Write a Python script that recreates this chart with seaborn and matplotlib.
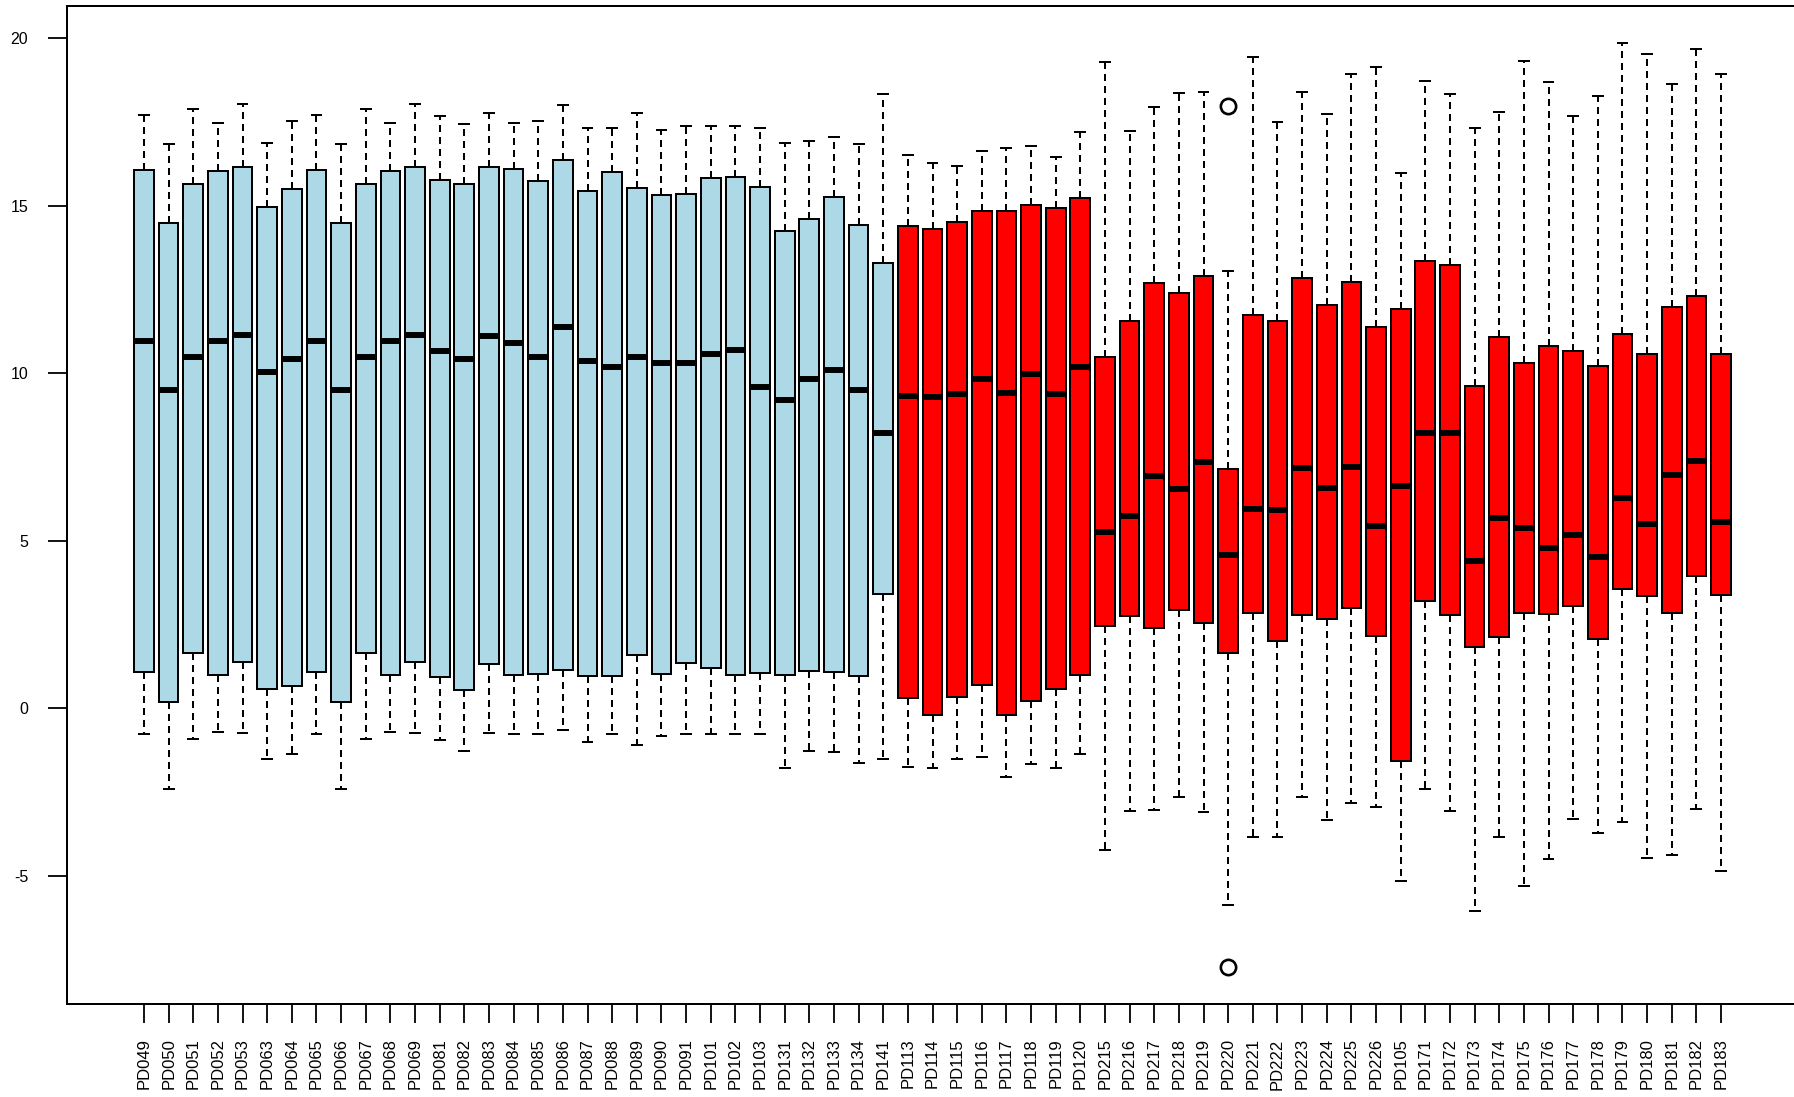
import numpy as np
import pandas as pd
import matplotlib
matplotlib.use("Agg")
import matplotlib.pyplot as plt
import seaborn as sns

samples = ["PD049", "PD050", "PD051", "PD052", "PD053", "PD063", "PD064", "PD065",
           "PD066", "PD067", "PD068", "PD069", "PD081", "PD082", "PD083", "PD084",
           "PD085", "PD086", "PD087", "PD088", "PD089", "PD090", "PD091", "PD101",
           "PD102", "PD103", "PD131", "PD132", "PD133", "PD134", "PD141",
           "PD113", "PD114", "PD115", "PD116", "PD117", "PD118", "PD119", "PD120",
           "PD215", "PD216", "PD217", "PD218", "PD219", "PD220", "PD221", "PD222",
           "PD223", "PD224", "PD225", "PD226", "PD105", "PD171", "PD172", "PD173",
           "PD174", "PD175", "PD176", "PD177", "PD178", "PD179", "PD180", "PD181",
           "PD182", "PD183"]
groups = ["control"] * 31 + ["case"] * 34

whisker_low = [-0.76, -2.40, -0.92, -0.71, -0.74, -1.52, -1.35, -0.76, -2.40, -0.92,
               -0.71, -0.74, -0.94, -1.26, -0.72, -0.75, -0.75, -0.65, -0.99, -0.75,
               -1.09, -0.82, -0.75, -0.75, -0.75, -0.75, -1.78, -1.26, -1.30, -1.64,
               -1.52,
               -1.74, -1.79, -1.51, -1.46, -2.04, -1.66, -1.77, -1.36, -4.22, -3.05,
               -3.03, -2.63, -3.08, -5.87, -3.83, -3.85, -2.63, -3.33, -2.83, -2.93,
               -5.15, -2.39, -3.07, -6.04, -3.83, -5.30, -4.49, -3.31, -3.71, -3.40,
               -4.47, -4.38, -3.01, -4.85]
q1 = [1.10, 0.20, 1.67, 1.01, 1.40, 0.59, 0.68, 1.10, 0.20, 1.67,
      1.01, 1.40, 0.93, 0.55, 1.33, 0.99, 1.03, 1.16, 0.96, 0.96,
      1.61, 1.03, 1.37, 1.20, 0.99, 1.06, 0.99, 1.13, 1.09, 0.96,
      3.42,
      0.30, -0.19, 0.35, 0.70, -0.19, 0.23, 0.58, 0.99, 2.47, 2.76,
      2.39, 2.94, 2.54, 1.67, 2.86, 2.01, 2.78, 2.66, 3.01, 2.16,
      -1.58, 3.21, 2.78, 1.84, 2.14, 2.84, 2.82, 3.06, 2.08, 3.57,
      3.36, 2.86, 3.95, 3.40]
median = [10.97, 9.51, 10.50, 10.98, 11.15, 10.04, 10.44, 10.97, 9.51, 10.50,
          10.98, 11.15, 10.67, 10.44, 11.12, 10.90, 10.48, 11.40, 10.38, 10.20,
          10.48, 10.32, 10.32, 10.59, 10.70, 9.59, 9.20, 9.85, 10.10, 9.52,
          8.22,
          9.34, 9.29, 9.39, 9.84, 9.43, 9.98, 9.39, 10.19, 5.27, 5.76,
          6.94, 6.55, 7.35, 4.58, 5.95, 5.91, 7.19, 6.57, 7.22, 5.46,
          6.64, 8.23, 8.23, 4.39, 5.69, 5.40, 4.78, 5.19, 4.52, 6.29,
          5.52, 6.97, 7.40, 5.57]
q3 = [16.07, 14.50, 15.66, 16.04, 16.15, 14.98, 15.51, 16.07, 14.50, 15.66,
      16.04, 16.15, 15.78, 15.66, 16.17, 16.09, 15.74, 16.37, 15.45, 16.02,
      15.53, 15.34, 15.36, 15.84, 15.87, 15.56, 14.26, 14.60, 15.28, 14.43,
      13.31,
      14.41, 14.30, 14.53, 14.86, 14.85, 15.02, 14.93, 15.25, 10.48, 11.57,
      12.71, 12.39, 12.91, 7.14, 11.74, 11.58, 12.84, 12.04, 12.73, 11.38,
      11.93, 13.35, 13.23, 9.63, 11.10, 10.32, 10.81, 10.67, 10.22, 11.17,
      10.57, 11.99, 12.30, 10.58]
whisker_high = [17.72, 16.85, 17.90, 17.49, 18.05, 16.87, 17.55, 17.72, 16.85, 17.90,
                17.49, 18.05, 17.70, 17.44, 17.79, 17.49, 17.54, 18.01, 17.32, 17.32,
                17.77, 17.27, 17.39, 17.39, 17.39, 17.32, 16.87, 16.94, 17.05, 16.85,
                18.33,
                16.52, 16.29, 16.20, 16.65, 16.72, 16.79, 16.47, 17.22, 19.31, 17.25,
                17.96, 18.38, 18.40, 13.07, 19.44, 17.52, 18.40, 17.75, 18.94, 19.16,
                15.98, 18.74, 18.34, 17.32, 17.82, 19.33, 18.71, 17.69, 18.28, 19.87,
                19.54, 18.63, 19.68, 18.93]
outlier_samples = ["PD220", "PD220"]
outlier_values = [-7.71, 17.99]

# Build a long table whose quartiles / whiskers reproduce the summary values
rows = []
for i, s in enumerate(samples):
    outs = [v for os_, v in zip(outlier_samples, outlier_values) if os_ == s]
    lows = [v for v in outs if v < q1[i]]
    highs = [v for v in outs if v > q3[i]]
    if outs:
        vals = lows + [whisker_low[i], q1[i], q1[i], median[i], q3[i], q3[i],
                       whisker_high[i]] + highs
    else:
        vals = [whisker_low[i], q1[i], median[i], q3[i], whisker_high[i]]
    for v in vals:
        rows.append({"sample": s, "group": groups[i], "value": v})
df = pd.DataFrame(rows)

plt.rcParams["font.family"] = ["Liberation Sans", "DejaVu Sans"]
plt.rcParams["axes.unicode_minus"] = False

W, H = 1794, 1097
fig = plt.figure(figsize=(W / 100, H / 100), dpi=100)
left_px, right_px, top_px, bottom_px = 67, 1798, 6, 1003.6
ax = fig.add_axes([left_px / W, 1 - bottom_px / H,
                   (right_px - left_px) / W, (bottom_px - top_px) / H])

lw = 1.44
sns.boxplot(data=df, x="sample", y="value", hue="group", order=samples,
            hue_order=["control", "case"],
            palette={"control": "#ADD8E6", "case": "#FF0000"},
            dodge=False, width=0.8, saturation=1, linewidth=lw, linecolor="black",
            whis=1.5, fliersize=11, legend=False, ax=ax,
            medianprops=dict(linewidth=4.3, color="black", solid_capstyle="butt"),
            whiskerprops=dict(linewidth=lw, color="black", linestyle=(0, (3.5, 2.5))),
            capprops=dict(linewidth=lw, color="black", linestyle="-"),
            flierprops=dict(marker="o", markerfacecolor="none",
                            markeredgecolor="black", markeredgewidth=1.9,
                            markersize=11))

n = len(samples)
ax.set_xlim(-3.125, n - 1 + 3.125)
ax.set_ylim(-8.81, 20.97)
ax.set_yticks([-5, 0, 5, 10, 15, 20])
ax.set_yticklabels(["-5", "0", "5", "10", "15", "20"])
ax.set_xticks(range(n))
ax.set_xticklabels(samples, rotation=90)
ax.set_xlabel("")
ax.set_ylabel("")
ax.grid(False)
ax.set_facecolor("white")
for sp in ax.spines.values():
    sp.set_visible(True)
    sp.set_linewidth(lw)
    sp.set_color("black")
ax.tick_params(axis="y", direction="out", length=14, width=1.3, labelsize=11.5,
               pad=14, colors="black")
ax.tick_params(axis="x", direction="out", length=14, width=1.3, labelsize=12,
               pad=11, colors="black")

fig.savefig("out.png", dpi=100, facecolor="white")
